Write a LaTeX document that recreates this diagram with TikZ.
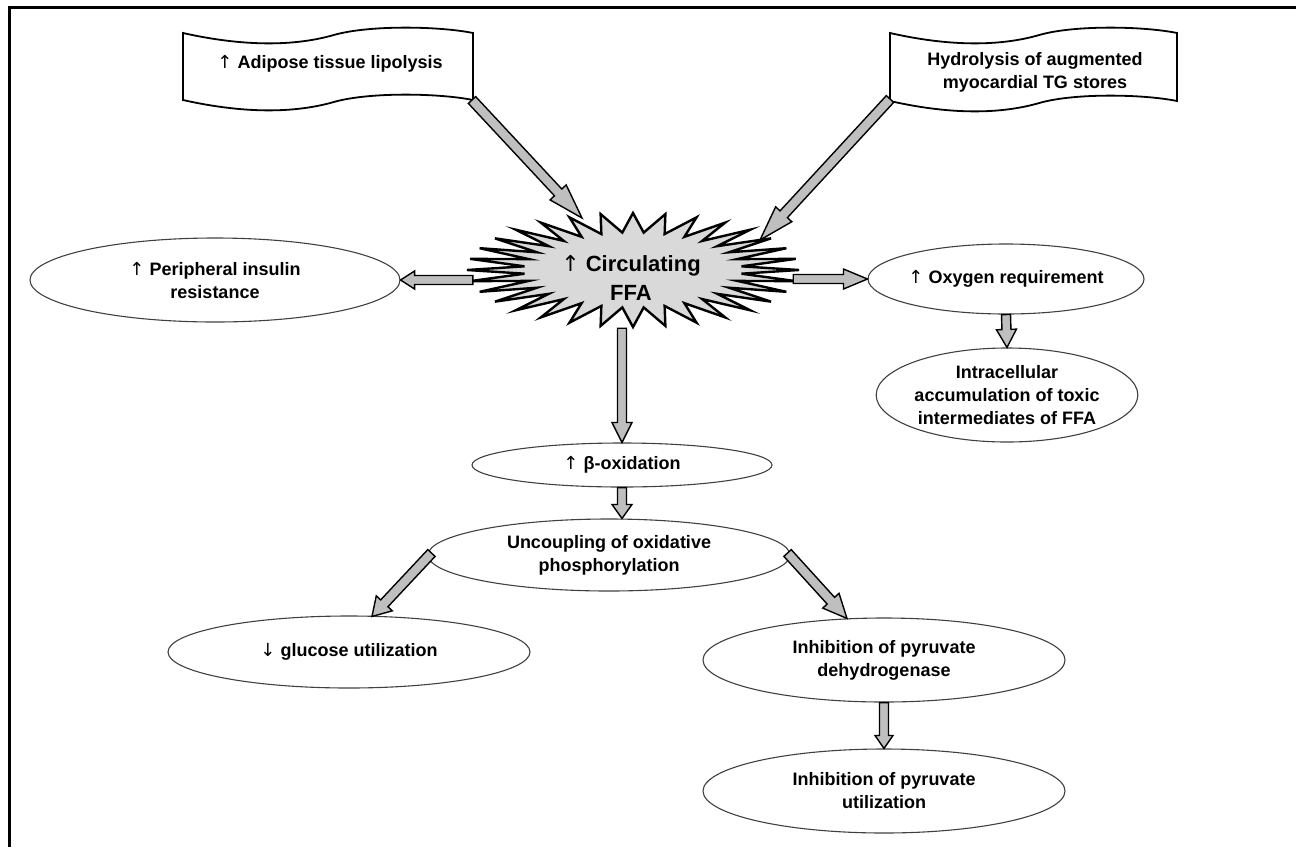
\documentclass[tikz,border=0pt]{standalone}
\usepackage{fontspec}
\setmainfont{Liberation Sans}
\newfontfamily\arrfont{DejaVu Sans}
\usetikzlibrary{shapes.geometric,calc}
\newcommand{\uparr}{{\arrfont\mdseries ↑}}
\newcommand{\dnarr}{{\arrfont\mdseries ↓}}
% block arrow: start, end, shaft half width, head half width, head length
\newcommand{\barrow}[5]{%
  \coordinate (bA) at #1; \coordinate (bB) at #2;
  \coordinate (bC) at ($(bB)!#5!(bA)$);
  \draw[barrowst] ($(bA)!#3!90:(bB)$) -- ($(bC)!#3!-90:(bA)$) -- ($(bC)!#4!-90:(bA)$) -- (bB)
    -- ($(bC)!#4!90:(bA)$) -- ($(bC)!#3!90:(bA)$) -- ($(bA)!#3!-90:(bB)$) -- cycle;}
% wave banner: left, top, width, height
\newcommand{\banner}[4]{%
  \draw[bannerst] (#1,#2) .. controls ({#1+0.23*#3},{#2+15}) and ({#1+0.40*#3},{#2+12}) .. ({#1+0.52*#3},{#2+2})
    .. controls ({#1+0.64*#3},{#2-8}) and ({#1+0.88*#3},{#2-7}) .. ({#1+#3},#2)
    -- ({#1+#3},{#2+#4})
    .. controls ({#1+0.88*#3},{#2+#4-7}) and ({#1+0.64*#3},{#2+#4-8}) .. ({#1+0.52*#3},{#2+#4+2})
    .. controls ({#1+0.40*#3},{#2+#4+12}) and ({#1+0.23*#3},{#2+#4+15}) .. (#1,{#2+#4}) -- cycle;}
\begin{document}
\begin{tikzpicture}[x=1pt,y=-1pt,
  barrowst/.style={draw=black,line width=1.4pt,fill=black!25,line join=miter},
  bannerst/.style={draw=black,line width=1.8pt,fill=white},
  starst/.style={draw=black,line width=2.4pt,fill=black!15,line join=miter},
  ell/.style={draw=black!75,line width=1.1pt,ellipse,inner sep=0pt,align=center,
    font=\fontsize{18}{23}\selectfont\bfseries},
  txt/.style={align=center,inner sep=0pt,font=\fontsize{18}{23}\selectfont\bfseries}]
\useasboundingbox (0,0) rectangle (1296,847);
\draw[line width=3pt] (9,847) -- (9,7) -- (1296,7);

% banners
\banner{183}{33}{290}{67}
\banner{890}{33}{287}{68}
\node[txt] (adi) at (330,64) {\uparr{} Adipose tissue lipolysis};
\node[txt] (hyd) at (1035,72) {Hydrolysis of augmented\\myocardial TG stores};
\coordinate (b1) at (472,100);
\coordinate (b2) at (890,99);

% star
\draw[starst] (799,270) \foreach \i in {0,...,31}{
  -- ({633+109*cos(\i*11.25+5.625)},{270+37.6*sin(\i*11.25+5.625)})
  -- ({633+166*cos(\i*11.25+11.25)},{270+57*sin(\i*11.25+11.25)}) } -- cycle;
\node[ellipse,minimum width=320pt,minimum height=112pt,inner sep=0pt] (ffa) at (633,272) {};
\node[txt,font=\fontsize{22}{29}\selectfont\bfseries] (ffat) at (631,278) {\uparr{} Circulating\\FFA};
\coordinate (t1) at (582,218);
\coordinate (t2) at (760,240);

% ellipses
\node[ell,minimum width=370pt,minimum height=84pt] (peri) at (215,280) {\uparr{} Peripheral insulin\\resistance};
\node[ell,minimum width=258pt,minimum height=70pt] (oxy) at (1006,279) {\uparr{} Oxygen requirement};
\node[ell,minimum width=214pt,minimum height=94pt] (intra) at (1007,395) {Intracellular\\accumulation of toxic\\intermediates of FFA};
\node[ell,minimum width=300pt,minimum height=44pt] (beta) at (622,465) {\uparr{} β-oxidation};
\node[ell,minimum width=362pt,minimum height=72pt] (unc) at (609,555) {Uncoupling of oxidative\\phosphorylation};
\node[ell,minimum width=362pt,minimum height=72pt] (glu) at (349,652) {\dnarr{} glucose utilization};
\node[ell,minimum width=362pt,minimum height=84pt] (deh) at (884,660) {Inhibition of pyruvate\\dehydrogenase};
\node[ell,minimum width=362pt,minimum height=84pt] (util) at (884,791) {Inhibition of pyruvate\\utilization};

% arrows
\barrow{(b1)}{(t1)}{5pt}{11pt}{35pt}
\barrow{(b2)}{(t2)}{5pt}{11pt}{35pt}
\barrow{(ffa.west |- peri.east)}{(peri.east)}{4.5pt}{9pt}{14pt}
\barrow{(ffa.east |- oxy.west)}{(oxy.west)}{4.5pt}{10pt}{24pt}
\barrow{(beta.north |- ffa.south)}{(beta.north)}{4.5pt}{10pt}{20pt}
\barrow{(oxy.south)}{(intra.north)}{4.5pt}{10pt}{18pt}
\barrow{(beta.south)}{(beta.south |- unc.north)}{4.5pt}{10pt}{14pt}
\barrow{($(unc.west)+(4,-2)$)}{($(glu.north)+(23,1)$)}{5pt}{11pt}{18pt}
\barrow{($(unc.east)+(-3,-2)$)}{($(deh.north)+(-37,1)$)}{5pt}{11pt}{24pt}
\barrow{(deh.south)}{(util.north)}{4.5pt}{9pt}{13pt}
\end{tikzpicture}
\end{document}
